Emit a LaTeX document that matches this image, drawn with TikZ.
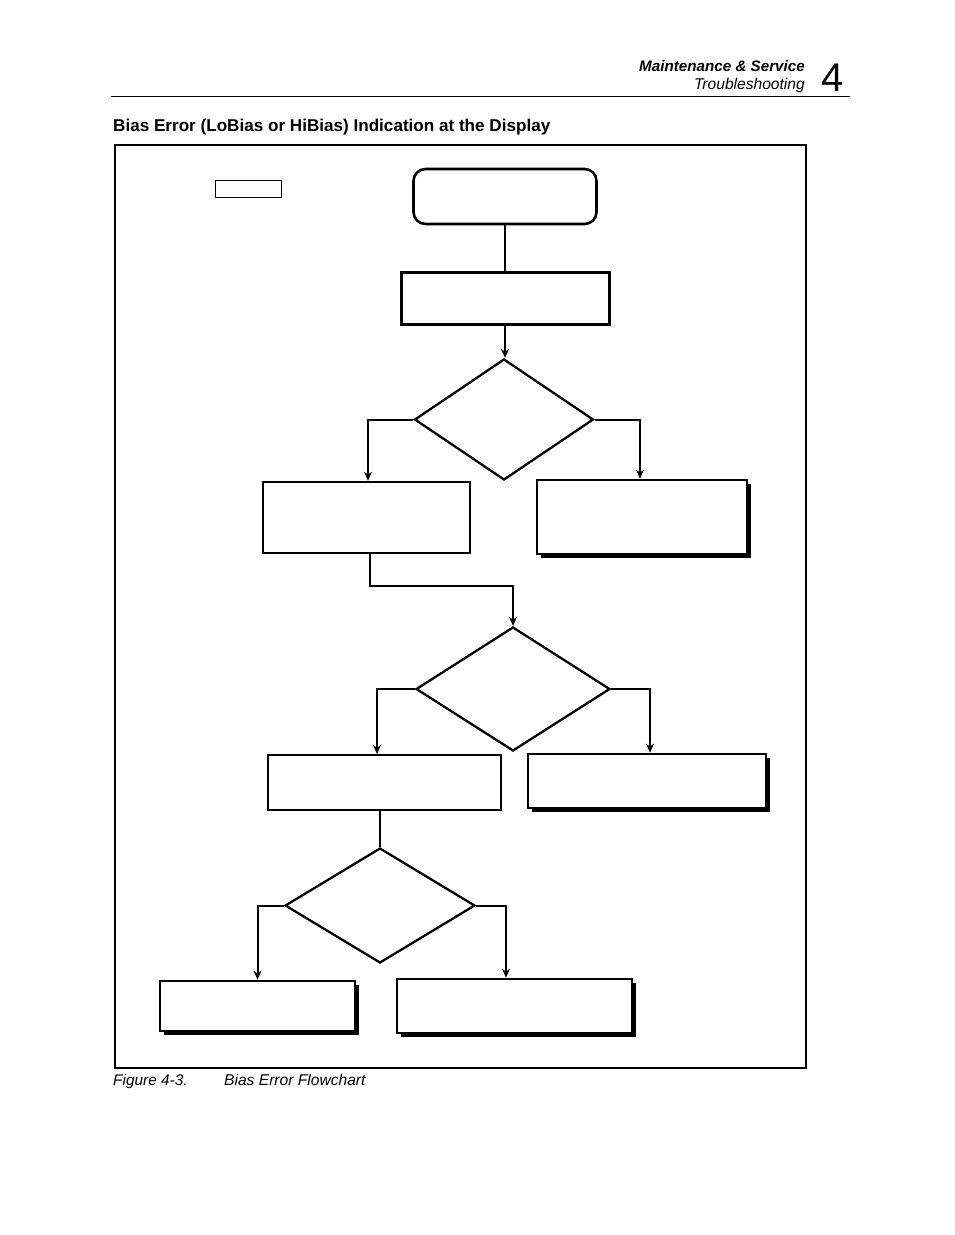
\documentclass[tikz,border=0pt]{standalone}
\usepackage{fontspec}
\setmainfont{Liberation Sans}
\usetikzlibrary{shapes.geometric,arrows.meta,shadows,calc}
\begin{document}
\begin{tikzpicture}[x=1pt,y=-1pt,
  conn/.style={line width=2pt,-{Stealth[length=9pt,width=8pt]}},
  plain/.style={line width=2pt},
  boxa/.style={draw,fill=white,rectangle,inner sep=0pt,line width=2.6pt},
  shbox/.style={boxa,drop shadow={shadow xshift=4pt,shadow yshift=-4pt,opacity=1,fill=black}},
  dia/.style={draw,diamond,inner sep=0pt,line width=2.3pt,aspect=1.5},
  hdr/.style={inner sep=0pt,anchor=base east}
]
\useasboundingbox (0,0) rectangle (954,1235);
% header
\node[hdr,font=\fontsize{15.2}{17}\selectfont\bfseries\itshape] (h1) at (805,71) {Maintenance \& Service};
\node[hdr,font=\fontsize{15.6}{17}\selectfont\itshape] (h2) at (805,89) {Troubleshooting};
\node[inner sep=0pt,anchor=base west,font=\fontsize{40}{44}\selectfont] (h3) at (821,91) {4};
\draw[line width=0.9pt] (111,96) -- (850,96);
\node[inner sep=0pt,anchor=base west,font=\fontsize{17.1}{20}\selectfont\bfseries] (title) at (113,131) {Bias Error (LoBias or HiBias) Indication at the Display};
% frame
\draw[line width=1.3pt] (115,145) rectangle (806,1068);
\node[draw,rectangle,line width=1pt,inner sep=0pt,minimum width=66pt,minimum height=17pt] (small) at (248,188.5) {};
% nodes
\node[draw,rectangle,rounded corners=12pt,line width=2.6pt,minimum width=183pt,minimum height=55pt] (start) at (505,196.5) {};
\node[boxa,line width=3pt,minimum width=208pt,minimum height=52pt] (b1) at (505,298) {};
\node[dia,minimum width=179pt,minimum height=121pt] (d1) at (504,419.5) {};
\node[boxa,minimum width=207pt,minimum height=71pt] (b2) at (366.5,517.5) {};
\node[shbox,minimum width=210pt,minimum height=74pt] (b3) at (642,517) {};
\node[dia,minimum width=194pt,minimum height=124pt] (d2) at (513,689) {};
\node[boxa,line width=2pt,minimum width=233pt,minimum height=55pt] (b4) at (384.5,782.5) {};
\node[shbox,minimum width=238pt,minimum height=54pt] (b5) at (647,781) {};
\node[dia,minimum width=190pt,minimum height=115pt] (d3) at (380,905.5) {};
\node[shbox,minimum width=195pt,minimum height=50pt] (b6) at (257.5,1006) {};
\node[shbox,minimum width=235pt,minimum height=54pt] (b7) at (514.5,1006) {};
% connectors
\draw[plain] (start.south) -- (b1.north);
\draw[conn] (b1.south) -- (b1.south |- d1.north);
\draw[conn] (d1.west) -| ([xshift=1.5pt]b2.north);
\draw[conn] (d1.east) -| ([xshift=-2pt]b3.north);
\coordinate (k1) at ($([xshift=3.5pt]b2.south)+(0,32)$);
\draw[conn] ([xshift=3.5pt]b2.south) -- (k1) -| (d2.north);
\draw[conn] (d2.west) -| ([xshift=-7.5pt]b4.north);
\draw[conn] (d2.east) -| ([xshift=3pt]b5.north);
\draw[plain] ([xshift=-4.5pt]b4.south) -- (d3.north);
\draw[conn] (d3.west) -| (b6.north);
\draw[conn] (d3.east) -| ([xshift=-8.5pt]b7.north);
% caption
\node[inner sep=0pt,anchor=base west,font=\fontsize{15.4}{17}\selectfont\itshape] (cap1) at (113,1085) {Figure 4-3.};
\node[inner sep=0pt,anchor=base west,font=\fontsize{15.6}{17}\selectfont\itshape] (cap2) at (224,1085) {Bias Error Flowchart};
\end{tikzpicture}
\end{document}
